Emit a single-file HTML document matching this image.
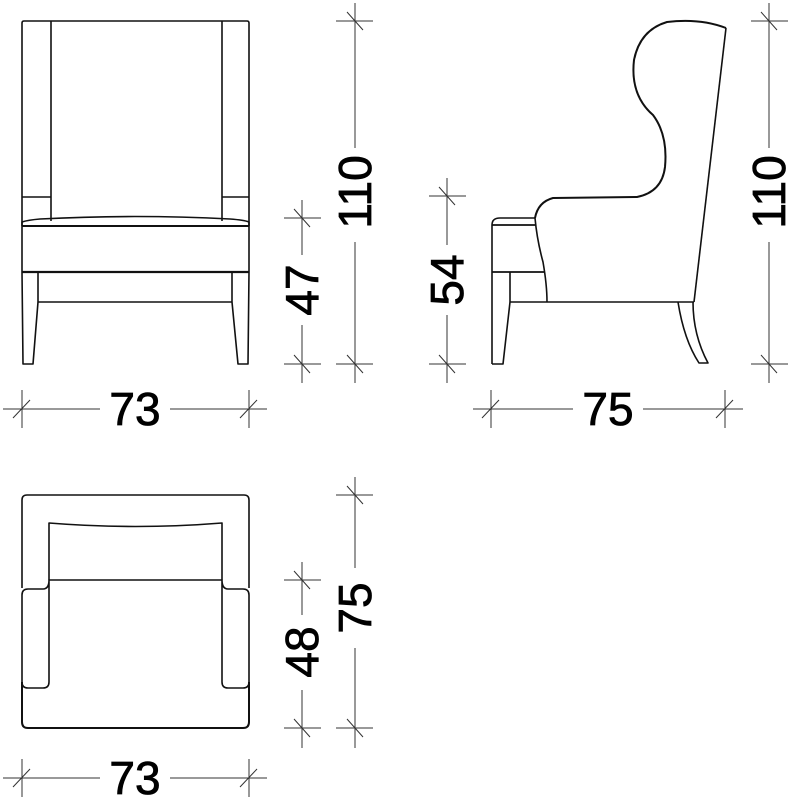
<!DOCTYPE html>
<html><head><meta charset="utf-8"><style>
html,body{margin:0;padding:0;background:#fff;}
svg{display:block;}
text{font-family:"Liberation Sans",sans-serif;font-size:46px;fill:#000;}
</style></head><body>
<svg width="791" height="800" viewBox="0 0 791 800" xmlns="http://www.w3.org/2000/svg">
<g fill="none" stroke="#111" stroke-width="1.6" stroke-linejoin="round">
<!-- FRONT VIEW -->
<path d="M22,272 V23 Q22,21 24,21 H247 Q249,21 249,23 V272"/>
<line x1="51" y1="21" x2="51" y2="221"/>
<line x1="222" y1="21" x2="222" y2="221"/>
<line x1="22" y1="197" x2="51" y2="197"/>
<line x1="222" y1="197" x2="249" y2="197"/>
<path d="M22,226 V222 Q28,220 40,219 Q135,214 230,219 Q244,220 249,222 V226"/>
<line x1="22" y1="226" x2="249" y2="226" stroke-width="2"/>
<line x1="22" y1="272" x2="249" y2="272" stroke-width="2.2"/>
<path d="M22,272 L23,364 H33 L38,302 V272"/>
<path d="M249,272 L248,364 H238 L232,302 V272"/>
<line x1="38" y1="302" x2="232" y2="302"/>
<!-- SIDE VIEW -->
<path d="M726,28 Q700,18 667,22 Q640,30 634,60 Q630,95 653,115 Q668,135 665,167 Q662,192 637,197 L553,198 Q538,202 535,218" stroke-width="2"/>
<path d="M726,28 L694,302"/>
<path d="M535,218 Q537,240 543,262 Q547,285 547,302"/>
<path d="M492,364 V225 Q492,218 500,218 H535"/>
<line x1="492" y1="225" x2="535" y2="225" stroke-width="1.8"/>
<line x1="492" y1="272" x2="545" y2="272" stroke-width="1.8"/>
<path d="M492,364 H503 L510,302 V272"/>
<line x1="510" y1="302" x2="694" y2="302"/>
<path d="M678,302 Q684,340 699,363 H708 Q693,335 693,302"/>
<!-- PLAN VIEW -->
<path d="M22,588 V500 Q22,495 27,495 H244 Q249,495 249,500 V588"/>
<path d="M49,580 V523 Q135,530 222,523 V580"/>
<line x1="49" y1="580" x2="222" y2="580"/>
<path d="M49,580 Q49,589 43,589 H28 Q22,589 22,595 V682 Q22,688 28,688 H43 Q49,688 49,682 Z"/>
<path d="M222,580 Q222,589 228,589 H243 Q249,589 249,595 V682 Q249,688 243,688 H228 Q222,688 222,682 Z"/>
<path d="M22,682 V722 Q22,728 28,728 H243 Q249,728 249,722 V682" stroke-width="2"/>
</g>
<!-- DIMENSIONS -->
<g fill="none" stroke="#333" stroke-width="1">
<line x1="355" y1="3" x2="355" y2="148"/><line x1="355" y1="242" x2="355" y2="383"/>
<line x1="336" y1="21" x2="373" y2="21"/><line x1="347" y1="12" x2="363" y2="30"/>
<line x1="336" y1="364" x2="373" y2="364"/><line x1="347" y1="355" x2="363" y2="373"/>
<line x1="302" y1="200" x2="302" y2="255"/><line x1="302" y1="325" x2="302" y2="383"/>
<line x1="284" y1="218" x2="321" y2="218"/><line x1="294" y1="209" x2="310" y2="227"/>
<line x1="284" y1="364" x2="321" y2="364"/><line x1="294" y1="355" x2="310" y2="373"/>
<line x1="3" y1="409" x2="100" y2="409"/><line x1="170" y1="409" x2="267" y2="409"/>
<line x1="22" y1="390" x2="22" y2="428"/><line x1="13" y1="418" x2="30" y2="400"/>
<line x1="249" y1="390" x2="249" y2="428"/><line x1="240" y1="418" x2="257" y2="400"/>
<line x1="769" y1="3" x2="769" y2="148"/><line x1="769" y1="242" x2="769" y2="383"/>
<line x1="751" y1="21" x2="788" y2="21"/><line x1="761" y1="12" x2="777" y2="30"/>
<line x1="751" y1="364" x2="788" y2="364"/><line x1="761" y1="355" x2="777" y2="373"/>
<line x1="447" y1="178" x2="447" y2="245"/><line x1="447" y1="315" x2="447" y2="383"/>
<line x1="429" y1="196" x2="466" y2="196"/><line x1="439" y1="187" x2="455" y2="205"/>
<line x1="429" y1="364" x2="466" y2="364"/><line x1="439" y1="355" x2="455" y2="373"/>
<line x1="473" y1="409" x2="573" y2="409"/><line x1="643" y1="409" x2="743" y2="409"/>
<line x1="491" y1="390" x2="491" y2="428"/><line x1="482" y1="418" x2="499" y2="400"/>
<line x1="725" y1="390" x2="725" y2="428"/><line x1="716" y1="418" x2="733" y2="400"/>
<line x1="355" y1="477" x2="355" y2="568"/><line x1="355" y1="648" x2="355" y2="748"/>
<line x1="336" y1="495" x2="373" y2="495"/><line x1="347" y1="486" x2="363" y2="504"/>
<line x1="336" y1="728" x2="373" y2="728"/><line x1="347" y1="719" x2="363" y2="737"/>
<line x1="302" y1="562" x2="302" y2="615"/><line x1="302" y1="690" x2="302" y2="748"/>
<line x1="284" y1="580" x2="321" y2="580"/><line x1="294" y1="571" x2="310" y2="589"/>
<line x1="284" y1="728" x2="321" y2="728"/><line x1="294" y1="719" x2="310" y2="737"/>
<line x1="3" y1="778" x2="100" y2="778"/><line x1="170" y1="778" x2="267" y2="778"/>
<line x1="22" y1="759" x2="22" y2="797"/><line x1="13" y1="787" x2="30" y2="769"/>
<line x1="249" y1="759" x2="249" y2="797"/><line x1="240" y1="787" x2="257" y2="769"/>
</g>
<g stroke="#000" stroke-width="0.8">
<text x="135" y="425" text-anchor="middle">73</text>
<text x="608" y="425" text-anchor="middle">75</text>
<text x="135" y="794" text-anchor="middle">73</text>
<text transform="translate(371,192) rotate(-90)" text-anchor="middle">110</text>
<text transform="translate(785,192) rotate(-90)" text-anchor="middle">110</text>
<text transform="translate(318,290) rotate(-90)" text-anchor="middle">47</text>
<text transform="translate(463,280) rotate(-90)" text-anchor="middle">54</text>
<text transform="translate(371,608) rotate(-90)" text-anchor="middle">75</text>
<text transform="translate(318,652) rotate(-90)" text-anchor="middle">48</text>
</g>
</svg>
</body></html>
